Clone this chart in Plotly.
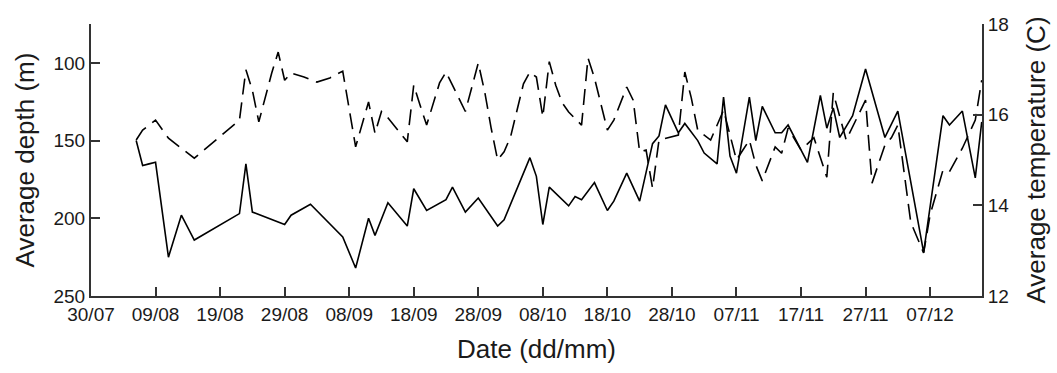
import plotly.graph_objects as go
from datetime import date

YEAR = 2005

# Daily mean depth (m) of the tagged fish, by date (dd/mm)
depth_dates = [
    "06/08", "07/08", "08/08", "09/08", "11/08", "13/08", "15/08", "22/08",
    "23/08", "24/08", "29/08", "30/08", "02/09", "07/09", "09/09", "11/09",
    "12/09", "14/09", "17/09", "18/09", "20/09", "23/09", "24/09", "26/09",
    "28/09", "01/10", "02/10", "06/10", "07/10", "08/10", "09/10", "12/10",
    "13/10", "14/10", "16/10", "18/10", "19/10", "21/10", "23/10", "25/10",
    "26/10", "27/10", "29/10", "30/10", "01/11", "02/11", "04/11", "05/11",
    "06/11", "07/11", "09/11", "10/11", "11/11", "13/11", "14/11", "15/11",
    "18/11", "20/11", "21/11", "22/11", "23/11", "25/11", "27/11", "30/11",
    "02/12", "06/12", "09/12", "10/12", "12/12", "14/12", "15/12",
]
depth_m = [
    150, 166, 165, 164, 225, 198, 214, 197,
    165, 196, 204, 198, 191, 212, 232, 200,
    211, 190, 205, 181, 195, 188, 180, 196,
    187, 205, 201, 161, 173, 204, 180, 192,
    186, 188, 177, 195, 189, 171, 189, 152,
    147, 127, 145, 139, 150, 158, 165, 122,
    160, 171, 122, 150, 128, 145, 145, 140,
    164, 121, 142, 129, 148, 134, 104, 148,
    131, 222, 134, 140, 131, 174, 138,
]

# Daily mean temperature (C) experienced, by date (dd/mm)
temp_dates = [
    "06/08", "07/08", "09/08", "11/08", "15/08", "22/08", "23/08", "24/08",
    "25/08", "27/08", "28/08", "29/08", "30/08", "01/09", "03/09", "05/09",
    "07/09", "09/09", "11/09", "12/09", "13/09", "14/09", "17/09", "18/09",
    "19/09", "20/09", "22/09", "23/09", "24/09", "26/09", "28/09", "29/09",
    "30/09", "01/10", "02/10", "03/10", "05/10", "06/10", "07/10", "08/10",
    "09/10", "10/10", "11/10", "12/10", "14/10", "15/10", "16/10", "17/10",
    "18/10", "19/10", "21/10", "22/10", "23/10", "24/10", "25/10", "26/10",
    "28/10", "29/10", "30/10", "31/10", "01/11", "03/11", "05/11", "07/11",
    "08/11", "09/11", "10/11", "11/11", "13/11", "14/11", "15/11", "17/11",
    "19/11", "21/11", "22/11", "24/11", "27/11", "28/11", "30/11", "01/12",
    "02/12", "04/12", "06/12", "07/12", "09/12", "10/12", "12/12", "14/12",
    "15/12",
]
temp_c = [
    15.44, 15.66, 15.88, 15.48, 15.04, 15.88, 16.99, 16.54,
    15.84, 16.92, 17.38, 16.76, 16.92, 16.83, 16.72, 16.81,
    16.96, 15.29, 16.28, 15.59, 16.07, 15.93, 15.40, 16.65,
    16.20, 15.77, 16.70, 16.94, 16.65, 16.07, 17.14, 16.50,
    15.70, 15.00, 15.18, 15.51, 16.68, 16.94, 16.83, 15.95,
    17.17, 16.65, 16.26, 16.06, 15.77, 17.25, 16.81, 16.26,
    15.66, 15.88, 16.61, 16.32, 15.18, 15.22, 14.38, 15.44,
    15.51, 15.55, 16.94, 16.37, 15.66, 15.44, 16.10, 15.00,
    15.22, 15.44, 14.89, 14.54, 15.29, 15.15, 15.70, 15.22,
    15.49, 14.62, 16.48, 15.44, 16.32, 14.49, 15.33, 15.49,
    15.77, 13.63, 12.95, 13.79, 14.78, 14.74, 15.26, 15.88,
    16.76,
]

# Date ticks every ten days
tick_labels = [
    "30/07", "09/08", "19/08", "29/08", "08/09", "18/09", "28/09",
    "08/10", "18/10", "28/10", "07/11", "17/11", "27/11", "07/12",
]
depth_ticks = [100, 150, 200, 250]
temp_ticks = [12, 14, 16, 18]


def to_date(ddmm):
    d, m = ddmm.split("/")
    return date(YEAR, int(m), int(d)).isoformat()


FONT = "Liberation Sans, Arial, Helvetica, sans-serif"
INK = "#1a1a1a"
AXIS = "#333333"

fig = go.Figure()
fig.add_trace(go.Scatter(
    x=[to_date(s) for s in depth_dates], y=depth_m,
    mode="lines", line=dict(color="black", width=1.6),
    name="Average depth", yaxis="y",
))
fig.add_trace(go.Scatter(
    x=[to_date(s) for s in temp_dates], y=temp_c,
    mode="lines", line=dict(color="black", width=1.6, dash="16px,8px"),
    name="Average temperature", yaxis="y2",
))

tick_font = dict(family=FONT, size=19, color=INK)
title_font = dict(family=FONT, size=26, color=INK)

fig.update_layout(
    width=1057, height=373,
    margin=dict(l=91, r=75, t=24, b=77),
    paper_bgcolor="white", plot_bgcolor="white",
    showlegend=False,
    xaxis=dict(
        type="date",
        range=[to_date("30/07"), "2005-12-15 01:00"],
        tickvals=[to_date(s) for s in tick_labels],
        ticktext=tick_labels,
        ticks="inside", ticklen=9, tickwidth=1.5, tickcolor=AXIS,
        showline=True, linecolor=AXIS, linewidth=2,
        showgrid=False, zeroline=False,
        tickfont=tick_font,
        title=dict(text="Date (dd/mm)", font=title_font, standoff=16),
        automargin=False,
    ),
    yaxis=dict(
        range=[250, 75],
        tickvals=depth_ticks,
        ticks="inside", ticklen=9, tickwidth=1.5, tickcolor=AXIS,
        showline=True, linecolor=AXIS, linewidth=2,
        showgrid=False, zeroline=False,
        tickfont=tick_font,
        title=dict(text="Average depth (m)", font=title_font, standoff=11),
        automargin=False,
    ),
    yaxis2=dict(
        range=[12, 18],
        tickvals=temp_ticks,
        overlaying="y", side="right",
        ticks="inside", ticklen=9, tickwidth=1.5, tickcolor=AXIS,
        showline=True, linecolor=AXIS, linewidth=2,
        showgrid=False, zeroline=False,
        tickfont=tick_font,
        title=dict(text="Average temperature (C)", font=title_font, standoff=18),
        automargin=False,
    ),
)

fig.write_html("out.html")
